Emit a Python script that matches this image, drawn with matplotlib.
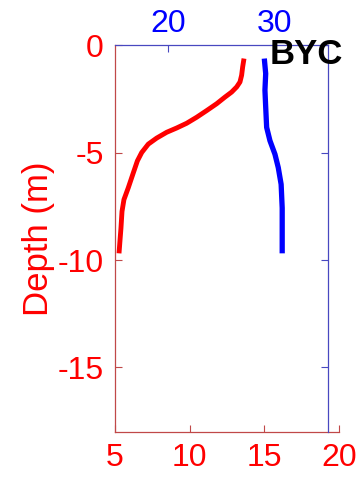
import matplotlib
matplotlib.use("Agg")
import matplotlib.pyplot as plt

plt.rcParams['font.family'] = ['Liberation Sans', 'DejaVu Sans']
plt.rcParams['axes.unicode_minus'] = False

# temperature profile (bottom axis, red)
temp = [13.64, 13.55, 13.48, 13.37, 13.15, 12.81, 12.37, 11.81, 11.14, 10.47,
        9.80, 9.13, 8.46, 7.79, 7.23, 6.79, 6.50, 6.23, 5.89, 5.60, 5.47,
        5.40, 5.33, 5.27]
temp_depth = [-0.63, -1.02, -1.41, -1.72, -1.95, -2.19, -2.42, -2.73, -3.05,
              -3.36, -3.64, -3.86, -4.06, -4.33, -4.61, -5.0, -5.39, -5.94,
              -6.64, -7.19, -7.74, -8.52, -9.14, -9.69]

# salinity profile (top axis, blue)
sal = [29.02, 29.15, 29.08, 29.15, 29.24, 29.55, 30.02, 30.33, 30.6, 30.7,
       30.7, 30.7]
sal_depth = [-0.63, -1.33, -2.1, -2.88, -3.83, -4.45, -5.08, -5.7, -6.48,
             -7.58, -8.5, -9.69]

fig = plt.figure(figsize=(3.6, 4.83), dpi=100)

ax1 = fig.add_axes([0.3194, 0.1056, 0.6222, 0.8012])
ax1.plot(temp, temp_depth, color="red", lw=3.5, solid_capstyle="butt")
ax1.set_xlim(5, 20)
ax1.set_ylim(-18, 0)
ax1.set_xticks([5, 10, 15, 20])
ax1.set_yticks([0, -5, -10, -15])
ax1.spines[["top", "right"]].set_visible(False)
for s in ["left", "bottom"]:
    ax1.spines[s].set_color("#c04848")
    ax1.spines[s].set_linewidth(0.9)
ax1.tick_params(direction="in", length=5, colors="#c04848", labelcolor="red",
                labelsize=23, pad=8)
ax1.set_ylabel("Depth (m)", color="red", fontsize=25, labelpad=2)

ax2 = fig.add_axes([0.3194, 0.1056, 0.5917, 0.8012])
ax2.patch.set_visible(False)
ax2.plot(sal, sal_depth, color="blue", lw=3.8, solid_capstyle="butt")
ax2.set_xlim(15, 35)
ax2.set_ylim(-18, 0)
ax2.set_xticks([20, 30])
ax2.set_yticks([0, -5, -10, -15])
ax2.xaxis.tick_top()
ax2.yaxis.tick_right()
ax2.spines[["left", "bottom"]].set_visible(False)
for s in ["top", "right"]:
    ax2.spines[s].set_color("#4848c0")
    ax2.spines[s].set_linewidth(0.9)
ax2.tick_params(direction="in", length=5, colors="#4848c0", labelcolor="blue",
                labelsize=23, pad=4)
ax2.tick_params(axis="y", labelright=False)

fig.text(0.75, 0.887, "BYC", fontsize=25, fontweight="bold", color="black",
         ha="left", va="center")

fig.savefig("out.png", dpi=100)
